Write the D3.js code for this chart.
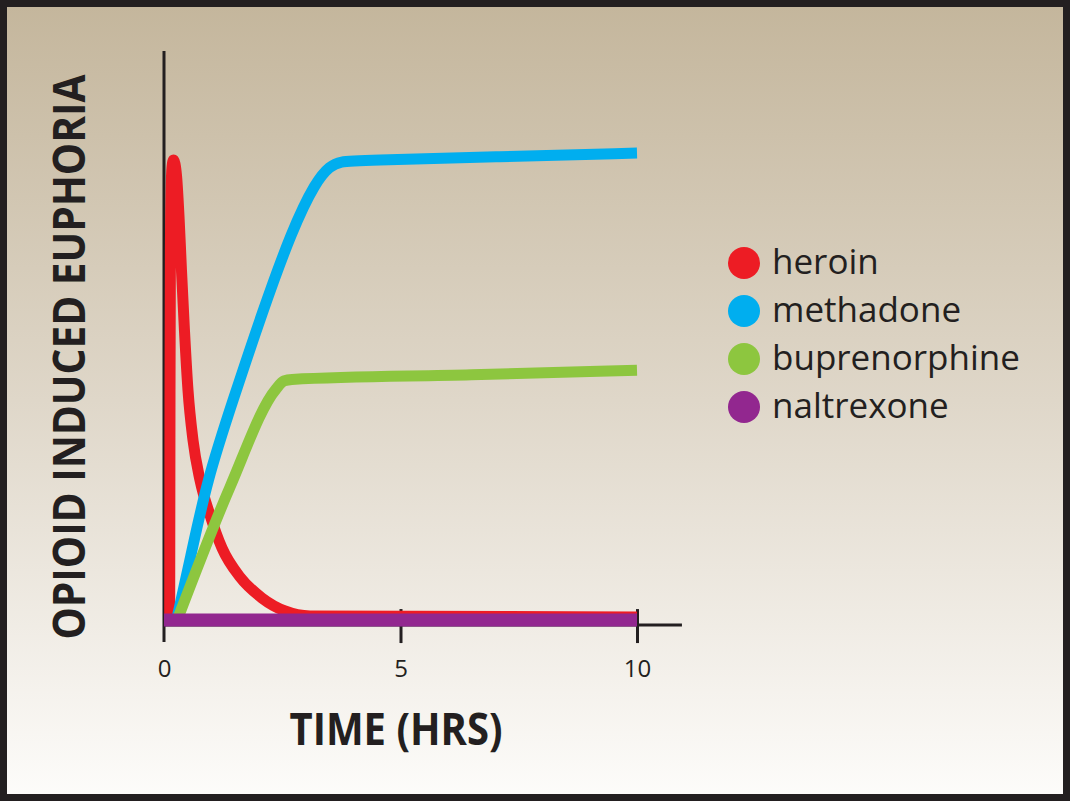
<!DOCTYPE html>
<html>
<head>
<meta charset="utf-8">
<script src="https://cdn.jsdelivr.net/npm/d3@7"></script>
<style>
  html, body { margin: 0; padding: 0; background: #fff; }
  svg { display: block; }
</style>
</head>
<body>
<div id="chart"></div>
<script>
// series names and colours
var names = ['heroin', 'methadone', 'buprenorphine', 'naltrexone'];
var colors = ['#ed1c24', '#00aeef', '#8dc63f', '#92278f'];

// time (hrs) / euphoria values
var heroinT = [0.12, 0.127, 0.135, 0.15, 0.17, 0.201, 0.264, 0.317, 0.370, 0.433, 0.507, 0.613, 0.761, 0.973, 1.226, 1.607, 2.072, 2.558, 3.087, 10];
var heroinV = [0, 50, 80, 93, 98.5, 100, 96.7, 87.8, 75.9, 62.9, 50, 39.1, 30.4, 22.8, 15.65, 9.35, 4.78, 1.96, 0.87, 0.65];
var methadoneT = [0.275, 0.55, 0.909, 1.459, 2.072, 2.706, 3.214, 3.51, 3.721, 4.144, 7.104, 10];
var methadoneV = [0.43, 13.04, 30.43, 47.83, 66.74, 84.78, 95.43, 98.7, 99.67, 99.89, 100.7, 101.52];
var buprenorphineT = [0.296, 1.395, 2.368, 2.537, 2.706, 6.5, 10];
var buprenorphineV = [0.43, 28.9, 50.2, 51.96, 52.3, 53.3, 54.3];
var naltrexoneT = [0, 10];
var naltrexoneV = [0, 0];

var xTicks = [0, 5, 10];

var W = 1070, H = 801;

var svg = d3.select('#chart').append('svg')
  .attr('width', W)
  .attr('height', H);

// background gradient
var grad = svg.append('defs').append('linearGradient')
  .attr('id', 'bg')
  .attr('x1', 0).attr('y1', 0).attr('x2', 0).attr('y2', 1);
grad.append('stop').attr('offset', '0%').attr('stop-color', '#c4b69c');
grad.append('stop').attr('offset', '50%').attr('stop-color', '#dfd7c9');
grad.append('stop').attr('offset', '100%').attr('stop-color', '#fdfcfa');

svg.append('rect')
  .attr('x', 3.5).attr('y', 3.5)
  .attr('width', W - 7).attr('height', H - 7)
  .attr('fill', 'url(#bg)')
  .attr('stroke', '#231f20')
  .attr('stroke-width', 7);

// scales
var x = d3.scaleLinear().domain([0, 10]).range([164, 637]);
var y = d3.scaleLinear().domain([0, 100]).range([620, 160]);

var axisColor = '#231f20';
var font = '"Open Sans", "Noto Sans", sans-serif';

// y axis line
svg.append('line')
  .attr('x1', x(0)).attr('x2', x(0))
  .attr('y1', y(-4.8)).attr('y2', y(123.7))
  .attr('stroke', axisColor)
  .attr('stroke-width', 3);

// x axis line, runs a bit past 10
svg.append('line')
  .attr('x1', x(0)).attr('x2', x(10.95))
  .attr('y1', y(-1.1)).attr('y2', y(-1.1))
  .attr('stroke', axisColor)
  .attr('stroke-width', 3);

// x axis ticks + labels
var xAxis = svg.append('g')
  .attr('transform', 'translate(0,' + y(-1.1) + ')')
  .call(d3.axisBottom(x).tickValues(xTicks).tickSize(18).tickPadding(17));
xAxis.select('.domain').remove();
xAxis.selectAll('.tick line')
  .attr('y1', -16)
  .attr('y2', 18)
  .attr('stroke', axisColor)
  .attr('stroke-width', 3);
xAxis.selectAll('.tick')
  .filter(function(d) { return d === 0; })
  .select('line').remove();
xAxis.selectAll('.tick text')
  .attr('fill', '#231f20')
  .style('font-family', font)
  .style('font-size', '24px');

// lines (methadone drawn with a b-spline, it is one smooth arc)
var series = [
  { t: heroinT, v: heroinV, w: 11, curve: d3.curveMonotoneX },
  { t: methadoneT, v: methadoneV, w: 11, curve: d3.curveBasis },
  { t: buprenorphineT, v: buprenorphineV, w: 11, curve: d3.curveMonotoneX },
  { t: naltrexoneT, v: naltrexoneV, w: 13, curve: d3.curveLinear }
];

series.forEach(function(s, i) {
  var pts = s.t.map(function(t, j) { return [t, s.v[j]]; });
  var line = d3.line()
    .x(function(d) { return x(d[0]); })
    .y(function(d) { return y(d[1]); })
    .curve(s.curve);
  svg.append('path')
    .attr('d', line(pts))
    .attr('fill', 'none')
    .attr('stroke', colors[i])
    .attr('stroke-width', s.w)
    .attr('stroke-linejoin', 'round')
    .attr('stroke-linecap', 'butt');
});

// axis titles
svg.append('text')
  .attr('x', 396)
  .attr('y', 745)
  .attr('text-anchor', 'middle')
  .attr('fill', '#231f20')
  .attr('textLength', 213)
  .attr('lengthAdjust', 'spacingAndGlyphs')
  .style('font-family', font)
  .style('font-weight', 'bold')
  .style('font-size', '44px')
  .text('TIME (HRS)');

svg.append('text')
  .attr('transform', 'translate(85,357) rotate(-90)')
  .attr('text-anchor', 'middle')
  .attr('fill', '#231f20')
  .attr('textLength', 565)
  .attr('lengthAdjust', 'spacingAndGlyphs')
  .style('font-family', font)
  .style('font-weight', 'bold')
  .style('font-size', '44px')
  .text('OPIOID INDUCED EUPHORIA');

// legend
var legend = svg.append('g').attr('transform', 'translate(744,263)');
var items = legend.selectAll('g')
  .data(names)
  .enter().append('g')
  .attr('transform', function(d, i) { return 'translate(0,' + i * 48 + ')'; });
items.append('circle')
  .attr('r', 16)
  .attr('fill', function(d, i) { return colors[i]; });
items.append('text')
  .attr('x', 28)
  .attr('y', 11)
  .attr('fill', '#231f20')
  .style('font-family', font)
  .style('font-size', '35px')
  .text(function(d) { return d; });
</script>
</body>
</html>
